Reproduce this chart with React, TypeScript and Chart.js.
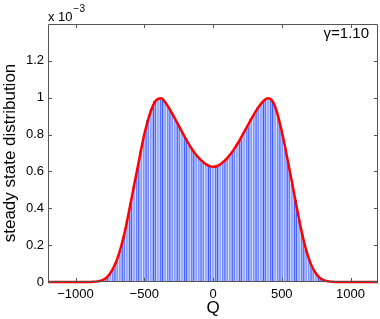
import React, { useEffect, useRef } from 'react';
import { Chart, registerables } from 'chart.js';

Chart.register(...registerables);

// histogram bin centres (Q) and heights (units of 1e-3)
const binCenters = [
  -800, -775, -750, -725, -700, -675, -650, -625, -600, -575, -550, -525, -500, -475, -450, -425, -400,
  -375, -350, -325, -300, -275, -250, -225, -200, -175, -150, -125, -100, -75, -50, -25, 0,
  25, 50, 75, 100, 125, 150, 175, 200, 225, 250, 275, 300, 325, 350, 375, 400,
  425, 450, 475, 500, 525, 550, 575, 600, 625, 650, 675, 700, 725, 750, 775, 800,
];
const binValues = [
  0.01, 0.022, 0.043, 0.072, 0.112, 0.172, 0.248, 0.335, 0.43, 0.525, 0.62, 0.715, 0.805, 0.88, 0.94, 0.982, 0.995,
  1.0, 0.98, 0.95, 0.918, 0.878, 0.85, 0.808, 0.782, 0.742, 0.72, 0.688, 0.672, 0.648, 0.64, 0.625, 0.63,
  0.624, 0.64, 0.655, 0.668, 0.695, 0.714, 0.75, 0.775, 0.815, 0.842, 0.885, 0.908, 0.948, 0.965, 0.99, 1.0,
  0.985, 0.955, 0.888, 0.822, 0.728, 0.64, 0.535, 0.445, 0.338, 0.258, 0.176, 0.122, 0.074, 0.046, 0.022, 0.011,
];

// smooth red curve (units of 1e-3)
const curveQ = [
  -1200, -1000, -900, -875, -850, -825, -800, -775, -750, -725, -700, -675, -650, -625, -600, -575, -550, -525,
  -500, -475, -450, -425, -400, -375, -350, -325, -300, -275, -250, -225, -200, -175, -150, -125, -100, -75,
  -50, -25, 0, 25, 50, 75, 100, 125, 150, 175, 200, 225, 250, 275, 300, 325, 350, 375, 400, 425, 450, 475,
  500, 525, 550, 575, 600, 625, 650, 675, 700, 725, 750, 775, 800, 825, 850, 875, 900, 1000, 1200,
];
const curveValues = [
  0, 0, 0, 0.001, 0.002, 0.005, 0.012, 0.024, 0.045, 0.076, 0.118, 0.175, 0.245, 0.33, 0.425, 0.52, 0.615, 0.71,
  0.8, 0.872, 0.932, 0.975, 0.994, 0.997, 0.978, 0.95, 0.918, 0.884, 0.849, 0.814, 0.78, 0.747, 0.718, 0.692, 0.671, 0.653,
  0.638, 0.629, 0.625, 0.628, 0.637, 0.652, 0.67, 0.692, 0.717, 0.746, 0.778, 0.812, 0.846, 0.88, 0.912, 0.942, 0.968, 0.988, 0.997, 0.988, 0.955, 0.895,
  0.818, 0.73, 0.635, 0.538, 0.44, 0.343, 0.255, 0.18, 0.12, 0.076, 0.045, 0.024, 0.012, 0.005, 0.002, 0.001, 0, 0, 0,
];

const xTickValues = [-1000, -500, 0, 500, 1000];
const yTickValues = [0, 0.2, 0.4, 0.6, 0.8, 1, 1.2];

const FONT = "'Liberation Sans', Arial, sans-serif";

const framePlugin = {
  id: 'frame',
  afterDatasetsDraw(chart: any) {
    const { ctx, chartArea: a, scales } = chart;
    ctx.save();
    ctx.strokeStyle = '#555';
    ctx.lineWidth = 1;
    ctx.beginPath();
    ctx.rect(Math.round(a.left) + 0.5, Math.round(a.top) + 0.5, Math.round(a.right - a.left) - 1, Math.round(a.bottom - a.top) - 1);
    ctx.stroke();
    const tl = 4;
    ctx.beginPath();
    for (const v of xTickValues) {
      const x = Math.round(scales.x.getPixelForValue(v)) + 0.5;
      ctx.moveTo(x, a.bottom);
      ctx.lineTo(x, a.bottom - tl);
      ctx.moveTo(x, a.top);
      ctx.lineTo(x, a.top + tl);
    }
    for (const v of yTickValues) {
      const y = Math.round(scales.y.getPixelForValue(v)) + 0.5;
      ctx.moveTo(a.left, y);
      ctx.lineTo(a.left + tl, y);
      ctx.moveTo(a.right, y);
      ctx.lineTo(a.right - tl, y);
    }
    ctx.stroke();

    ctx.fillStyle = '#000';
    ctx.textBaseline = 'alphabetic';
    ctx.textAlign = 'left';
    ctx.font = `13px ${FONT}`;
    ctx.fillText('x 10', a.left, a.top - 3);
    const w = ctx.measureText('x 10').width;
    ctx.font = `10px ${FONT}`;
    ctx.fillText('\u22123', a.left + w + 1, a.top - 12);

    ctx.font = `15px ${FONT}`;
    ctx.textAlign = 'right';
    ctx.fillText('\u03b3=1.10', a.right - 9, a.top + 14);
    ctx.restore();
  },
};

export default function App() {
  const ref = useRef<HTMLCanvasElement>(null);
  useEffect(() => {
    document.body.style.margin = '0';
    const canvas = ref.current!;
    const chart = new Chart(canvas, {
      type: 'bar',
      data: {
        datasets: [
          {
            type: 'line',
            data: curveQ.map((q, i) => ({ x: q, y: curveValues[i] })),
            borderColor: '#ff0000',
            borderWidth: 2.5,
            pointRadius: 0,
            cubicInterpolationMode: 'monotone',
            fill: false,
            order: 0,
            clip: 4,
          } as any,
          {
            type: 'bar',
            data: binCenters.map((q, i) => ({ x: q, y: binValues[i] })),
            backgroundColor: '#9aacff',
            borderColor: '#3a5aff',
            borderWidth: 1,
            borderSkipped: 'start',
            barPercentage: 0.9,
            categoryPercentage: 1,
            order: 1,
          } as any,
        ],
      },
      options: {
        responsive: false,
        animation: false,
        maintainAspectRatio: false,
        layout: { padding: { top: 24, right: 2, left: 0, bottom: 0 } },
        plugins: { legend: { display: false }, tooltip: { enabled: false } },
        scales: {
          x: {
            type: 'linear',
            min: -1200,
            max: 1200,
            offset: false,
            grid: { display: false, drawTicks: false },
            border: { display: false },
            afterBuildTicks: (s: any) => {
              s.ticks = xTickValues.map((v) => ({ value: v }));
            },
            ticks: {
              color: '#000',
              font: { family: FONT, size: 13 },
              padding: 5,
              maxRotation: 0,
              callback: (v: any) => (v < 0 ? '\u2212' + Math.abs(v) : String(v)),
            },
            title: {
              display: true,
              text: 'Q',
              color: '#000',
              font: { family: FONT, size: 17 },
              padding: { top: 0, bottom: 0 },
            },
            afterFit: (s: any) => {
              s.height = 37;
            },
          },
          y: {
            type: 'linear',
            min: 0,
            max: 1.4,
            grid: { display: false, drawTicks: false },
            border: { display: false },
            afterBuildTicks: (s: any) => {
              s.ticks = yTickValues.map((v) => ({ value: v }));
            },
            ticks: {
              color: '#000',
              font: { family: FONT, size: 13 },
              padding: 4,
              callback: (v: any) => String(Math.round(v * 10) / 10),
            },
            title: {
              display: true,
              text: 'steady state distribution',
              color: '#000',
              font: { family: FONT, size: 17 },
              padding: { top: 0, bottom: 0 },
            },
            afterFit: (s: any) => {
              s.width = 48;
            },
          },
        },
      },
      plugins: [framePlugin],
    });
    return () => chart.destroy();
  }, []);
  return <canvas ref={ref} width={380} height={319} style={{ display: 'block' }} />;
}
